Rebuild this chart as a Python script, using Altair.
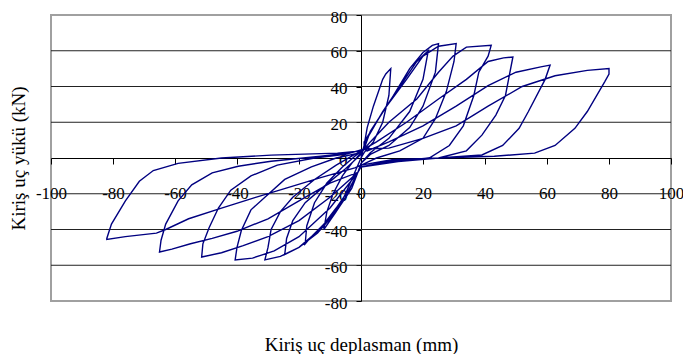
import altair as alt
import pandas as pd

# Hysteresis cycles: displacement (mm) and load (kN)
c1_d = [0, 1, 2, 4, 7, 8, 9.6, 9, 7, 4, 1, 0, -2, -5, -8, -10, -12, -11, -9, -6, -3, 0]
c1_f = [0, 7, 17, 29, 44, 47, 50, 35, 20, 9, 3, 0, -8, -20, -30, -35, -40, -30, -20, -10, -3, 3]

c2_d = [1, 2, 7, 12.5, 18, 21.7, 20, 15.7, 9, 3, 0, -1, -4, -8, -12, -16, -18, -17.5, -15, -11, -6, -2, 1]
c2_f = [5, 11, 26, 40, 54, 60, 44, 26, 11, 3, -3, -8, -18, -28, -37, -44, -48, -38, -25, -14, -5, 1, 5]

c3_d = [1, 5, 10.5, 15.7, 20, 23, 25, 24, 20, 15.7, 9, 3, 0, -1, -3, -8, -14, -20, -24.6, -24, -22, -18, -12, -5, 0, 1]
c3_f = [9, 20, 35, 50, 59, 63, 64, 48, 29, 17, 7, 2, -3, -8, -17, -30, -42, -50, -54, -45, -35, -25, -16, -6, 2, 5]

c4_d = [3, 8.3, 14.7, 20, 25, 30.7, 30, 27.5, 24, 20, 12.5, 5, 0, -1, -5, -12, -20, -26, -31, -30, -29, -26, -22, -15, -8, -3, 1]
c4_f = [15, 29, 44, 57, 62.5, 64, 54, 37, 22, 11, 4, 0, -4, -8, -22, -38, -50, -55, -57, -50, -40, -30, -22, -12, -4, 1, 5]

c5_d = [3, 9, 18, 25, 29.7, 34, 42, 41, 38, 36.4, 33, 28.5, 22, 10, 0, -1, -10, -20, -28, -35, -40.6, -40, -38.6, -35.5, -31, -24.6, -16, -8, 0, 1]
c5_f = [9, 20, 33, 48, 57, 62, 63, 57, 48, 35, 18, 7, 0, -2, -5, -8, -28, -44, -52, -56, -57, -50, -40.6, -29, -22, -12, -5, 0, 3, 5]

c6_d = [5, 14.7, 25, 34, 41, 46, 49, 47.6, 46.6, 43.5, 39, 34, 25, 12, 0, -1, -10, -20, -30, -38, -45, -51.4, -51, -49, -46, -42, -35.5, -27, -15, -5, 1]
c6_f = [9, 20, 33, 44, 54, 56, 56.5, 44, 35, 24, 12.8, 4, 0, -1, -5, -8, -22, -35, -44, -49, -53, -55.4, -48, -39, -28, -18, -10, -4, 0, 2, 5]

c7_d = [2, 9, 20, 30.7, 41, 50, 58, 61, 59.4, 54, 51, 45.7, 39, 25, 12, 0, -1, -10, -20, -30, -40, -48, -55, -61, -65,
        -64.5, -63, -59, -54.6, -48, -39.6, -29, -13, -3, 1]
c7_f = [4, 9, 18, 29, 40.5, 48, 51, 52, 44, 26, 16.6, 7, 1.7, 0, -2, -5, -8, -14, -24, -34, -41, -45, -48, -51, -52.6,
        -46, -37, -24, -15, -8.3, -4.6, -1.8, 1, 3, 5]

c8_d = [9, 20, 30.7, 41, 52, 62.6, 73, 80, 80, 78.6, 73, 69, 62.6, 56, 43, 25, 10, 0, -2, -13, -23.6, -34, -45, -55.6, -63, -66, -76, -82,
        -82, -80.5, -76, -71.5, -67, -59, -45, -29, -7.6, 0]
c8_f = [5.5, 11, 18, 29, 40, 46, 49, 50, 47, 42.6, 26, 16.6, 7, 2.7, 1, 0, -1, -4, -5.5, -11, -16.6, -22, -28, -34, -40, -42, -44, -45.5,
        -45, -37, -24, -13, -7, -3, 0, 1.6, 2.7, 4]

cycles = [(c1_d, c1_f), (c2_d, c2_f), (c3_d, c3_f), (c4_d, c4_f),
          (c5_d, c5_f), (c6_d, c6_f), (c7_d, c7_f), (c8_d, c8_f)]

x_ticks = [-100, -80, -60, -40, -20, 0, 20, 40, 60, 80, 100]
y_ticks = [-80, -60, -40, -20, 0, 20, 40, 60, 80]
grid_vals = [-60, -40, -20, 20, 40, 60]

rows = []
k = 0
for d_list, f_list in cycles:
    for d, f in zip(d_list, f_list):
        rows.append({"i": k, "d": d, "f": f})
        k += 1
df = pd.DataFrame(rows)
gdf = pd.DataFrame({"g": grid_vals})

FONT = "Liberation Serif"
W, H = 620, 286
xscale = alt.Scale(domain=[-100, 100], nice=False, zero=False)
yscale = alt.Scale(domain=[-80, 80], nice=False, zero=False)

x_axis = alt.Axis(values=x_ticks, offset=-H / 2, grid=False, domainColor="black", domainWidth=1,
                  tickColor="black", tickSize=6, labelPadding=21, labelFont=FONT, labelFontSize=17,
                  labelColor="black", labelExpr="datum.value + ''", labelFlush=False, labelOverlap=False,
                  titleFont=FONT, titleFontSize=19,
                  titleFontWeight="normal", titleColor="black", titleBaseline="middle", titleY=186)
y_axis = alt.Axis(values=y_ticks, offset=-W / 2, grid=False, domainColor="black", domainWidth=1,
                  tickColor="black", tickSize=5, labelPadding=9, labelFont=FONT, labelFontSize=17,
                  labelOffset=2,
                  labelColor="black", labelExpr="datum.value + ''", labelFlush=False, labelOverlap=False,
                  titleFont=FONT, titleFontSize=19,
                  titleFontWeight="normal", titleColor="black", titleBaseline="middle", titleX=-343)

grid = alt.Chart(gdf).mark_rule(color="#222222", strokeWidth=1).encode(
    y=alt.Y("g:Q", scale=yscale, axis=y_axis, title="Kiriş uç yükü (kN)")
)

line = alt.Chart(df).mark_line(color="#000080", strokeWidth=1.4, clip=True).encode(
    x=alt.X("d:Q", scale=xscale, axis=x_axis, title="Kiriş uç deplasman (mm)"),
    y=alt.Y("f:Q", scale=yscale, axis=y_axis, title="Kiriş uç yükü (kN)"),
    order="i:Q",
)

chart = alt.layer(grid, line).properties(
    width=W, height=H,
    autosize=alt.AutoSizeParams(type="none"),
    padding={"left": 43, "top": 7, "right": 12, "bottom": 53},
).configure_view(stroke="#a0a0a0", strokeWidth=2)

chart.save("out.html", embed_options={"renderer": "svg", "actions": False})
